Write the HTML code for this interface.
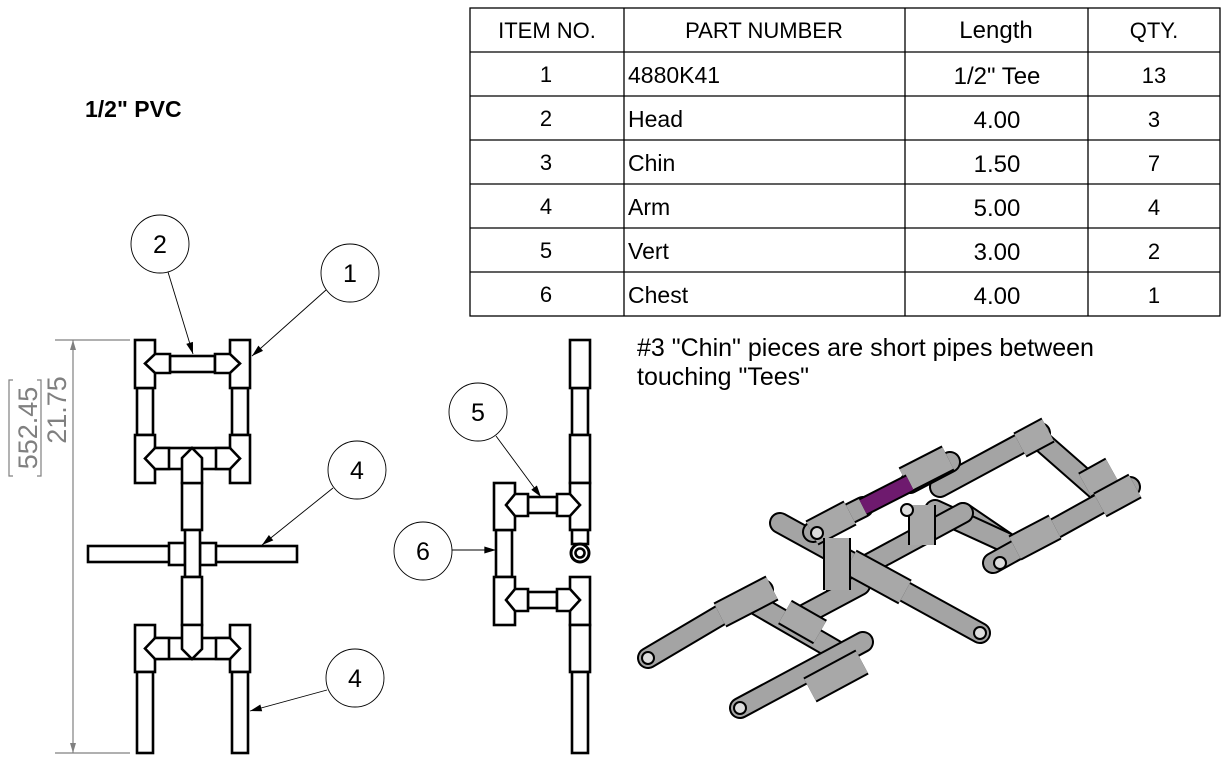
<!DOCTYPE html>
<html><head><meta charset="utf-8"><style>
html,body{margin:0;padding:0;background:#fff;width:1231px;height:761px;overflow:hidden}
svg{display:block}
text{font-family:"Liberation Sans",sans-serif}
</style></head><body>
<svg width="1231" height="761" viewBox="0 0 1231 761">
<defs>
<marker id="ar" viewBox="0 0 10 6" refX="10" refY="3" markerWidth="14" markerHeight="7" markerUnits="userSpaceOnUse" orient="auto"><path d="M0,0L10,3L0,6z" fill="#000"/></marker>
<marker id="ag" viewBox="0 0 10 6" refX="10" refY="3" markerWidth="14" markerHeight="6" markerUnits="userSpaceOnUse" orient="auto"><path d="M0,0L10,3L0,6z" fill="#808080"/></marker>
</defs>

<text x="85" y="117" font-size="23" font-weight="bold">1/2" PVC</text>

<g stroke="#000" stroke-width="1.3" fill="none">
<rect x="470" y="8" width="750" height="308"/>
<line x1="624" y1="8" x2="624" y2="316"/><line x1="905" y1="8" x2="905" y2="316"/><line x1="1088" y1="8" x2="1088" y2="316"/>
<line x1="470" y1="52" x2="1220" y2="52"/><line x1="470" y1="96" x2="1220" y2="96"/><line x1="470" y1="140" x2="1220" y2="140"/>
<line x1="470" y1="184" x2="1220" y2="184"/><line x1="470" y1="228" x2="1220" y2="228"/><line x1="470" y1="272" x2="1220" y2="272"/>
</g>
<g font-size="22" text-anchor="middle">
<text x="547" y="38">ITEM NO.</text><text x="764" y="38">PART NUMBER</text><text x="996" y="38" font-size="24">Length</text><text x="1154" y="38">QTY.</text>
</g>
<g font-size="22">
<g text-anchor="middle"><text x="546" y="82">1</text><text x="546" y="126">2</text><text x="546" y="170">3</text><text x="546" y="214">4</text><text x="546" y="258">5</text><text x="546" y="302">6</text></g>
<g font-size="23"><text x="628" y="83">4880K41</text><text x="628" y="127">Head</text><text x="628" y="171">Chin</text><text x="628" y="215">Arm</text><text x="628" y="259">Vert</text><text x="628" y="303">Chest</text></g>
<g text-anchor="middle" font-size="24"><text x="997" y="84">1/2" Tee</text><text x="997" y="128">4.00</text><text x="997" y="172">1.50</text><text x="997" y="216">5.00</text><text x="997" y="260">3.00</text><text x="997" y="304">4.00</text></g>
<g text-anchor="middle"><text x="1154" y="83">13</text><text x="1154" y="127">3</text><text x="1154" y="171">7</text><text x="1154" y="215">4</text><text x="1154" y="259">2</text><text x="1154" y="303">1</text></g>
</g>

<text font-size="25"><tspan x="637" y="356">#3 "Chin" pieces are short pipes between</tspan><tspan x="637" y="385">touching "Tees"</tspan></text>

<g stroke="#808080" stroke-width="1.2" fill="none">
<line x1="55" y1="340" x2="130" y2="340"/><line x1="55" y1="753" x2="130" y2="753"/>
<line x1="73" y1="360" x2="73" y2="340" marker-end="url(#ag)"/><line x1="73" y1="360" x2="73" y2="733"/><line x1="73" y1="733" x2="73" y2="753" marker-end="url(#ag)"/>
<path d="M13,380 H9 V476 H13 M37,380 H41 V476 H37"/>
</g>
<text transform="translate(66,410) rotate(-90)" text-anchor="middle" font-size="27" fill="#808080">21.75</text>
<text transform="translate(37,428) rotate(-90)" text-anchor="middle" font-size="27" fill="#808080">552.45</text>

<g stroke="#000" stroke-width="2.6" fill="#fff" stroke-linejoin="miter">
<rect x="137" y="388" width="16" height="47"/><rect x="232" y="388" width="16" height="47"/>
<rect x="135" y="340" width="20" height="48"/><rect x="230" y="340" width="20" height="48"/>
<rect x="135" y="435" width="20" height="48"/><rect x="230" y="435" width="20" height="48"/>
<rect x="170" y="356" width="45" height="16"/>
<polygon points="155,354 170,354 170,373 155,373 145,363.5"/><polygon points="230,354 215,354 215,373 230,373 240,363.5"/>
<rect x="155" y="448" width="75" height="21"/>
<polygon points="155,448 169,448 169,469 155,469 145,458.5"/><polygon points="230,448 216,448 216,469 230,469 240,458.5"/>
<rect x="182" y="483" width="20" height="47"/>
<polygon points="182,469 182,458 192,448 202,458 202,469 202,483 182,483"/>
<rect x="88" y="546" width="209" height="16"/>
<rect x="169" y="543" width="47" height="22"/>
<line x1="185" y1="543" x2="185" y2="565"/><line x1="200" y1="543" x2="200" y2="565"/>
<rect x="185" y="530" width="15" height="47"/>
<rect x="182" y="577" width="20" height="48"/>
<rect x="135" y="625" width="20" height="47"/><rect x="230" y="625" width="20" height="47"/>
<rect x="155" y="638" width="75" height="21"/>
<polygon points="155,638 169,638 169,659 155,659 145,648.5"/><polygon points="230,638 216,638 216,659 230,659 240,648.5"/>
<polygon points="182,625 202,625 202,649 192,659 182,649"/>
<rect x="137" y="672" width="16" height="81"/><rect x="232" y="672" width="16" height="81"/>
</g>

<g stroke="#000" stroke-width="2.6" fill="#fff">
<rect x="572" y="388" width="16" height="47"/><rect x="570" y="340" width="20" height="48"/>
<rect x="570" y="435" width="20" height="48"/><rect x="570" y="483" width="20" height="47"/>
<rect x="572" y="530" width="16" height="14"/>
<circle cx="580" cy="553" r="9" stroke-width="3"/><circle cx="580" cy="553" r="4.5"/>
<rect x="570" y="577" width="20" height="48"/><rect x="570" y="625" width="20" height="47"/><rect x="572" y="672" width="16" height="81"/>
<rect x="496" y="530" width="16" height="47"/>
<rect x="494" y="483" width="21" height="47"/><rect x="494" y="577" width="21" height="48"/>
<rect x="528" y="497" width="29" height="16"/><rect x="528" y="592" width="29" height="16"/>
<polygon points="515,494 528,494 528,516 515,516 506,505"/><polygon points="570,494 557,494 557,516 570,516 580,505"/>
<polygon points="515,589 528,589 528,611 515,611 506,600"/><polygon points="570,589 557,589 557,611 570,611 580,600"/>
</g>

<g stroke="#000" stroke-width="0.9" fill="none">
<line x1="168" y1="272" x2="193" y2="354" marker-end="url(#ar)"/>
<line x1="326" y1="290" x2="252" y2="356" marker-end="url(#ar)"/>
<line x1="333" y1="488" x2="262" y2="545" marker-end="url(#ar)"/>
<line x1="327" y1="690" x2="250" y2="711" marker-end="url(#ar)"/>
<line x1="496" y1="436" x2="541" y2="497" marker-end="url(#ar)"/>
<line x1="452" y1="550" x2="496" y2="550" marker-end="url(#ar)"/>
<circle cx="160" cy="244" r="29"/><circle cx="350" cy="273" r="29"/><circle cx="357" cy="470" r="29"/>
<circle cx="355" cy="678" r="29"/><circle cx="478" cy="412" r="29"/><circle cx="423" cy="551" r="29"/>
</g>
<g font-size="25" text-anchor="middle">
<text x="160" y="253">2</text><text x="350" y="282">1</text><text x="357" y="479">4</text><text x="355" y="687">4</text><text x="478" y="421">5</text><text x="423" y="560">6</text>
</g>

<g id="iso"></g>
</svg>
<script>
const pipes=[
 [[963,513],[1007,543]],[[935,510],[1007,543]],[[940,487],[1040,433]],[[1040,440],[1097,490]],
 [[1130,487],[993,563]],[[863,567],[963,513]],[[910,483],[950,462]],
 [[780,523],[980,633]],[[837,553],[837,590]],[[813,532],[863,507]],
 [[800,617],[860,585]],[[757,605],[835,650]],[[648,658],[763,590]],[[740,708],[863,642]]
];
const fittings=[
 [[1020,445],[1048,430]],[[1085,485],[1112,470]],[[1100,505],[1135,486]],[[1015,548],[1055,527]],
 [[905,480],[948,458]],[[812,533],[850,513]],[[922,505],[922,545]],[[850,562],[905,592]],
 [[837,538],[837,590]],[[720,615],[772,588]],[[810,690],[862,662]],[[785,612],[820,632]]
];
const purple=[[863,507],[910,483]];
const g=document.getElementById('iso');
const NS='http://www.w3.org/2000/svg';
function seg(a,b,w,c,cap){const l=document.createElementNS(NS,'line');


l.setAttribute('x1',a[0]);l.setAttribute('y1',a[1]);l.setAttribute('x2',b[0]);l.setAttribute('y2',b[1]);
l.setAttribute('stroke',c);l.setAttribute('stroke-width',w);l.setAttribute('stroke-linecap',cap||'round');g.appendChild(l);}
pipes.forEach(p=>{seg(p[0],p[1],22,'#000');seg(p[0],p[1],18,'#a4a4a4');});
fittings.forEach(p=>{seg(p[0],p[1],28,'#000','butt');seg(p[0],p[1],24,'#a8a8a8','butt');});
seg(purple[0],purple[1],19,'#000','butt');seg(purple[0],purple[1],15,'#6e1a6e','butt');
[[648,658],[740,708],[980,633],[1000,563],[817,533],[907,510]].forEach(c=>{
 const e=document.createElementNS(NS,'circle');
 
 
 e.setAttribute('cx',c[0]);e.setAttribute('cy',c[1]);e.setAttribute('r',6);e.setAttribute('fill','#ddd');e.setAttribute('stroke','#000');e.setAttribute('stroke-width',2);g.appendChild(e);});
</script>
</body></html>
